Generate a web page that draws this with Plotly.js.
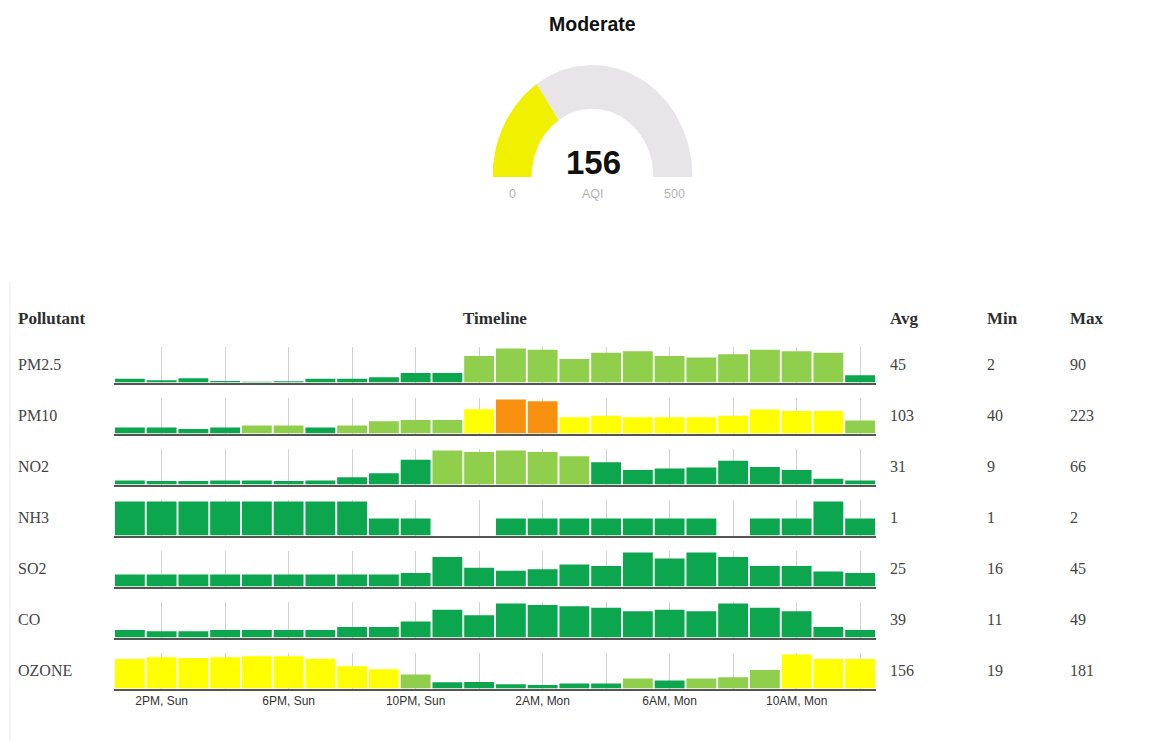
<!DOCTYPE html>
<html>
<head>
<meta charset="utf-8">
<script src="https://cdn.plot.ly/plotly-3.0.1.min.js"></script>
<style>html,body{margin:0;padding:0;background:#fff;}</style>
</head>
<body>
<div id="chart" style="width:1163px;height:741px;"></div>
<script>
// ---------- DATA ----------
const aqiValue = 156;
const aqiMin = 0;
const aqiMax = 500;
const aqiCategory = 'Moderate';

const times = ['1PM, Sun','2PM, Sun','3PM, Sun','4PM, Sun','5PM, Sun','6PM, Sun','7PM, Sun','8PM, Sun',
  '9PM, Sun','10PM, Sun','11PM, Sun','12AM, Mon','1AM, Mon','2AM, Mon','3AM, Mon','4AM, Mon',
  '5AM, Mon','6AM, Mon','7AM, Mon','8AM, Mon','9AM, Mon','10AM, Mon','11AM, Mon','12PM, Mon'];
const tickLabels = ['2PM, Sun','6PM, Sun','10PM, Sun','2AM, Mon','6AM, Mon','10AM, Mon'];

const pollutants = ['PM2.5','PM10','NO2','NH3','SO2','CO','OZONE'];
const avgVals = [45, 103, 31, 1, 25, 39, 156];
const minVals = [2, 40, 9, 1, 16, 11, 19];
const maxVals = [90, 223, 66, 2, 45, 49, 181];

const pm25  = [10,6,11,4,2,3,10,10,14,25,25,70,90,87,62,79,83,70,66,75,87,83,79,19];
const pm10  = [40,40,30,40,53,53,40,53,80,88,88,160,223,212,106,117,106,106,106,117,157,148,148,86];
const no2   = [8,7,7,8,8,7,8,14,22,48,66,63,66,63,55,43,28,31,33,46,34,28,11,8];
const nh3   = [2,2,2,2,2,2,2,2,1,1,null,null,1,1,1,1,1,1,1,null,1,1,2,1];
const so2   = [16,16,16,16,16,16,16,16,16,18,39,25,21,23,29,27,45,37,45,39,27,27,20,18];
const co    = [11,9,9,11,11,11,11,15,15,23,40,32,49,47,45,43,38,40,38,49,43,38,15,11];
const ozone = [157,167,163,167,172,172,159,118,102,74,33,35,22,19,27,27,53,43,53,60,99,181,157,157];
const series = [pm25, pm10, no2, nh3, so2, co, ozone];

// ---------- STYLE ----------
const W = 1163, H = 741;
const px = x => x / W;
const py = y => 1 - y / H;
function aqiColor(v) {
  if (v <= 50) return '#0ba64e';
  if (v <= 100) return '#8fcf4c';
  if (v <= 200) return '#ffff00';
  return '#f7900e';
}
const serif = 'Liberation Serif, DejaVu Serif, serif';
const sans = 'Liberation Sans, Arial, sans-serif';
const rowPitch = 51, firstBase = 382.5, rowH = 36;
const plotL = 114, plotR = 876;

const oddTimes = times.filter((t, i) => i % 2 === 1);
const oddText = oddTimes.map(t => tickLabels.includes(t) ? t : '');

function note(text, x, y, anchor, font) {
  return {text: text, x: px(x), y: py(y), xref: 'paper', yref: 'paper',
    xanchor: anchor, yanchor: 'middle', showarrow: false, font: font};
}

const data = [];
const layout = {
  width: W, height: H,
  margin: {l: 0, r: 0, t: 0, b: 0},
  paper_bgcolor: '#ffffff',
  plot_bgcolor: 'rgba(0,0,0,0)',
  showlegend: false,
  bargap: 0.06,
  annotations: [],
  shapes: [
    {type: 'line', xref: 'paper', yref: 'paper', x0: px(10), x1: px(10), y0: py(282), y1: py(741),
     line: {color: '#ececec', width: 1}}
  ],
  xaxis8: {domain: [px(492.5), px(692.5)], anchor: 'y8', range: [-1, 1], visible: false, fixedrange: true},
  yaxis8: {domain: [py(177), py(65)], anchor: 'x8', range: [0, 1], visible: false, fixedrange: true}
};

// Gauge: arc band from value a0 to a1 on the [aqiMin, aqiMax] scale
const holeFrac = 0.61;
function arcBand(a0, a1) {
  const t0 = Math.PI * (1 - (a0 - aqiMin) / (aqiMax - aqiMin));
  const t1 = Math.PI * (1 - (a1 - aqiMin) / (aqiMax - aqiMin));
  const steps = 60, xs = [], ys = [];
  for (let k = 0; k <= steps; k++) {
    const t = t0 + (t1 - t0) * k / steps;
    xs.push(Math.cos(t)); ys.push(Math.sin(t));
  }
  for (let k = steps; k >= 0; k--) {
    const t = t0 + (t1 - t0) * k / steps;
    xs.push(holeFrac * Math.cos(t)); ys.push(holeFrac * Math.sin(t));
  }
  return {xs, ys};
}
const gVal = arcBand(aqiMin, aqiValue), gRest = arcBand(aqiValue, aqiMax);
data.push({type: 'scatter', mode: 'lines', x: gRest.xs, y: gRest.ys, xaxis: 'x8', yaxis: 'y8',
  fill: 'toself', fillcolor: '#e7e5e7', line: {width: 0, color: '#e7e5e7'}, hoverinfo: 'skip'});
data.push({type: 'scatter', mode: 'lines', x: gVal.xs, y: gVal.ys, xaxis: 'x8', yaxis: 'y8',
  fill: 'toself', fillcolor: '#f0f000', line: {width: 0, color: '#f0f000'}, hoverinfo: 'skip'});

const gaugeLbl = {family: sans, size: 12.5, color: '#b5b5b5'};
layout.annotations.push(
  note('<b>' + aqiCategory + '</b>', 592.5, 24, 'center', {family: sans, size: 19.5, color: '#111'}),
  note('<b>' + aqiValue + '</b>', 593, 162, 'center', {family: 'Liberation Sans Narrow, ' + sans, size: 33, color: '#111'}),
  note(String(aqiMin), 512, 194, 'center', gaugeLbl),
  note('AQI', 593, 194, 'center', gaugeLbl),
  note(String(aqiMax), 674, 194, 'center', gaugeLbl)
);

// Table headers
const headY = 319;
const headFont = {family: serif, size: 17, color: '#2e2e2e'};
[['Pollutant', 16, 'left'], ['Timeline', (plotL + plotR) / 2, 'center'], ['Avg', 888, 'left'],
 ['Min', 985, 'left'], ['Max', 1068, 'left']].forEach(h => {
  layout.annotations.push(note('<b>' + h[0] + '</b>', h[1], headY, h[2], headFont));
});

// Rows
const cellFont = {family: serif, size: 16, color: '#444'};
pollutants.forEach((name, i) => {
  const n = i + 1;
  const base = firstBase + rowPitch * i;
  const xa = 'xaxis' + (n === 1 ? '' : n), ya = 'yaxis' + (n === 1 ? '' : n);
  const xr = 'x' + (n === 1 ? '' : n), yr = 'y' + (n === 1 ? '' : n);
  const vals = series[i];
  const vmax = Math.max(...vals.filter(v => v !== null));
  data.push({type: 'bar', x: times, y: vals, xaxis: xr, yaxis: yr,
    marker: {color: vals.map(v => v === null ? '#fff' : aqiColor(v)), line: {width: 0}},
    hoverinfo: 'x+y'});
  layout[xa] = {
    domain: [px(plotL), px(plotR)], anchor: yr, type: 'category',
    categoryorder: 'array', categoryarray: times, range: [-0.5, times.length - 0.5],
    tickmode: 'array', tickvals: oddTimes, ticktext: oddText,
    showticklabels: i === pollutants.length - 1, ticks: '',
    tickfont: {family: sans, size: 12, color: '#333'},
    showgrid: true, gridcolor: '#d2d2d2', gridwidth: 1,
    showline: true, linecolor: '#555555', linewidth: 2, zeroline: false, fixedrange: true
  };
  layout[ya] = {
    domain: [py(base), py(base - rowH)], anchor: xr, range: [0, vmax * 1.06],
    visible: false, showgrid: false, zeroline: false, fixedrange: true
  };
  const cy = base - 18;
  layout.annotations.push(
    note(name, 16, cy, 'left', cellFont),
    note(String(avgVals[i]), 888, cy, 'left', cellFont),
    note(String(minVals[i]), 985, cy, 'left', cellFont),
    note(String(maxVals[i]), 1068, cy, 'left', cellFont)
  );
});

Plotly.newPlot('chart', data, layout, {displayModeBar: false, staticPlot: true});
</script>
</body>
</html>
